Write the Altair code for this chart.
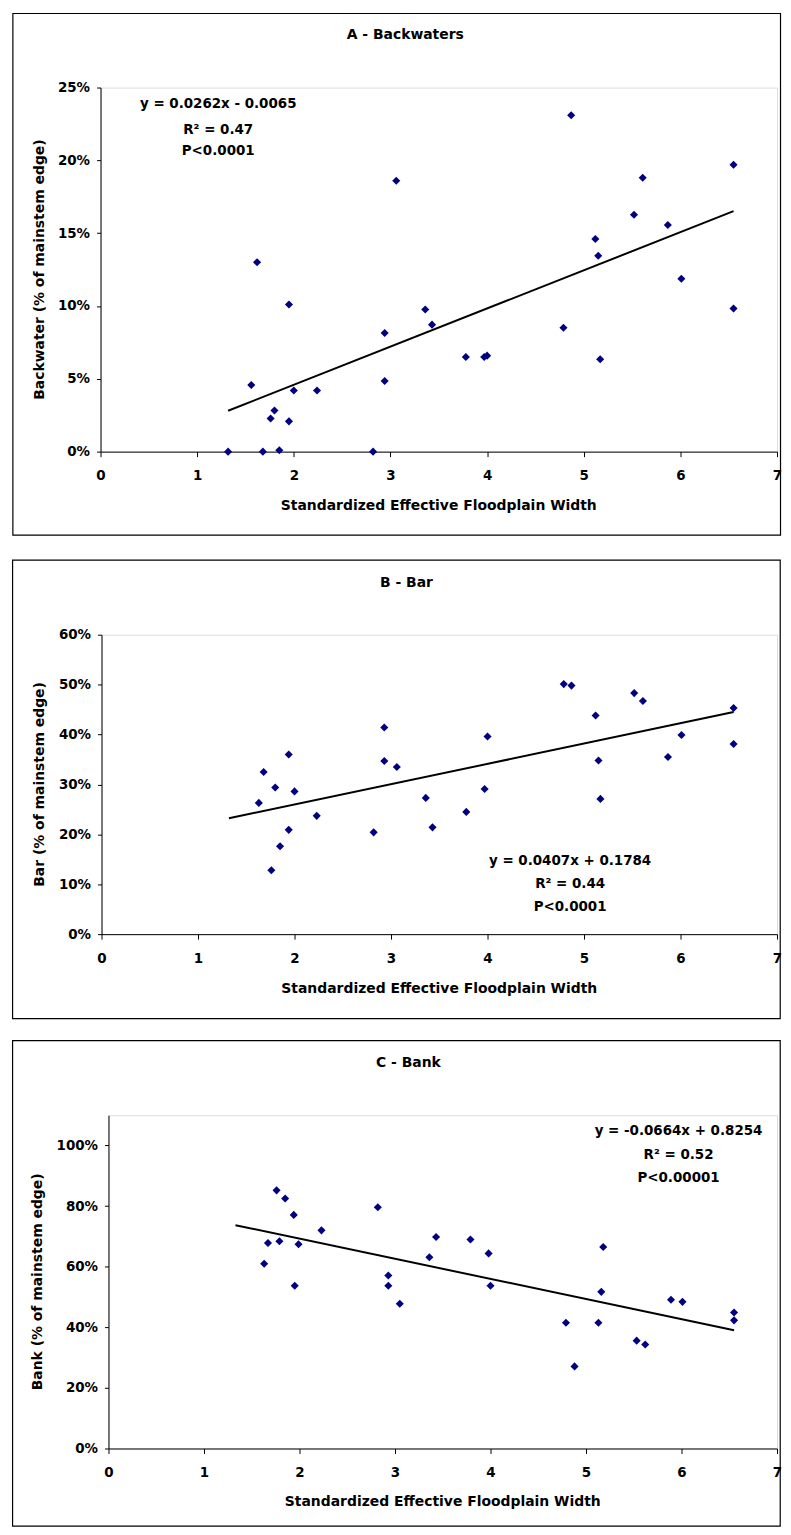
import altair as alt
import pandas as pd

# ---------------- data ----------------
# Panel A - Backwaters (values in % of mainstem edge)
A_x = [1.32, 1.56, 1.62, 1.68, 1.76, 1.80, 1.85, 1.95, 1.95, 2.00,
       2.24, 2.82, 2.94, 2.94, 3.06, 3.36, 3.43, 3.78, 3.97, 4.00,
       4.79, 4.87, 5.12, 5.15, 5.17, 5.52, 5.61, 5.87, 6.01, 6.55, 6.55]
A_y = [0.0, 4.57, 13.0, 0.0, 2.27, 2.83, 0.1, 10.1, 2.08, 4.2,
       4.2, 0.0, 8.15, 4.85, 18.6, 9.76, 8.72, 6.5, 6.5, 6.59,
       8.51, 23.1, 14.6, 13.45, 6.34, 16.26, 18.8, 15.56, 11.87, 19.7, 9.83]
A_trend_x = [1.32, 6.55]
A_trend_y = [2.81, 16.51]

# Panel B - Bar
B_x = [1.63, 1.68, 1.76, 1.80, 1.85, 1.94, 1.94, 2.00, 2.23, 2.82,
       2.93, 2.93, 3.06, 3.36, 3.43, 3.78, 3.97, 4.00, 4.79, 4.87,
       5.12, 5.15, 5.17, 5.52, 5.61, 5.87, 6.01, 6.55, 6.55]
B_y = [26.3, 32.5, 12.8, 29.4, 17.6, 36.0, 20.9, 28.6, 23.7, 20.4,
       41.4, 34.7, 33.5, 27.3, 21.4, 24.5, 29.1, 39.6, 50.1, 49.8,
       43.8, 34.8, 27.1, 48.3, 46.7, 35.5, 39.9, 45.3, 38.1]
B_trend_x = [1.32, 6.55]
B_trend_y = [23.21, 44.50]

# Panel C - Bank
C_x = [1.63, 1.67, 1.76, 1.79, 1.85, 1.94, 1.95, 1.99, 2.23, 2.82,
       2.93, 2.93, 3.05, 3.36, 3.43, 3.79, 3.98, 4.00, 4.79, 4.88,
       5.13, 5.16, 5.18, 5.53, 5.62, 5.89, 6.01, 6.55, 6.55]
C_y = [61.0, 67.8, 85.2, 68.4, 82.5, 77.1, 53.7, 67.4, 72.0, 79.6,
       57.1, 53.7, 47.8, 63.1, 69.8, 69.0, 64.4, 53.7, 41.5, 27.1,
       41.5, 51.7, 66.5, 35.6, 34.3, 49.1, 48.4, 44.9, 42.3]
C_trend_x = [1.33, 6.55]
C_trend_y = [73.71, 39.05]

X_TICKS = [0, 1, 2, 3, 4, 5, 6, 7]
A_TICKS = [0, 5, 10, 15, 20, 25]
B_TICKS = [0, 10, 20, 30, 40, 50, 60]
C_TICKS = [0, 20, 40, 60, 80, 100]

X_TITLE = "Standardized Effective Floodplain Width"

FONT = "DejaVu Sans"
NAVY = "#000080"
LBL = 13.5


def panel(xs, ys, tx, ty, ydom, yticks, W, H, box, title, title_xy,
          eq_lines, eq_x, eq_ys, ytitle, ytitle_xy, xtitle_xy):
    xscale = alt.Scale(domain=[0, 7], nice=False, zero=False)
    yscale = alt.Scale(domain=ydom, nice=False, zero=False)
    xaxis = alt.Axis(values=X_TICKS, title=None, grid=False, labelFlush=False,
                     labelFont=FONT, labelFontSize=LBL, labelFontWeight="bold",
                     labelColor="black", domainColor="black", tickColor="black",
                     tickSize=5, labelPadding=12, format="d")
    yaxis = alt.Axis(values=yticks, title=None, grid=False,
                     labelExpr="datum.value + '%'",
                     labelFont=FONT, labelFontSize=LBL, labelFontWeight="bold",
                     labelColor="black", domainColor="black", tickColor="black",
                     tickSize=4, labelPadding=7)

    pts = pd.DataFrame({"x": xs, "y": ys})
    trend = pd.DataFrame({"x": tx, "y": ty})
    dummy = pd.DataFrame({"d": [0]})

    frame = alt.Chart(dummy).mark_rect(filled=False, stroke="black", strokeWidth=1.2).encode(
        x=alt.value(box[0]), x2=alt.value(box[1]), y=alt.value(box[2]), y2=alt.value(box[3]))

    points = alt.Chart(pts).mark_point(shape="diamond", filled=True, size=66,
                                        color=NAVY, opacity=1).encode(
        x=alt.X("x:Q", scale=xscale, axis=xaxis),
        y=alt.Y("y:Q", scale=yscale, axis=yaxis))

    line = alt.Chart(trend).mark_line(color="black", strokeWidth=2).encode(
        x=alt.X("x:Q", scale=xscale, axis=xaxis),
        y=alt.Y("y:Q", scale=yscale, axis=yaxis))

    def txt(s, x, y, size=LBL, angle=0):
        kw = dict(text=s, font=FONT, fontSize=size, fontWeight="bold",
                  color="black", align="center", baseline="middle")
        if angle:
            kw["angle"] = angle
        return alt.Chart(dummy).mark_text(**kw).encode(x=alt.value(x), y=alt.value(y))

    layers = [frame, points, line,
              txt(title, title_xy[0], title_xy[1], 14),
              txt(ytitle, ytitle_xy[0], ytitle_xy[1], 14, 270),
              txt(X_TITLE, xtitle_xy[0], xtitle_xy[1], 14)]
    for s, yy in zip(eq_lines, eq_ys):
        layers.append(txt(s, eq_x, yy))
    return alt.layer(*layers).properties(width=W, height=H)


def spacer():
    d = pd.DataFrame({"d": [0]})
    return alt.Chart(d).mark_rect(opacity=0, strokeWidth=0).encode(
        x=alt.value(0), x2=alt.value(1), y=alt.value(0), y2=alt.value(1)
    ).properties(width=1, height=1, view=alt.ViewBackground(stroke="transparent"))


pa = panel(A_x, A_y, A_trend_x, A_trend_y, [0, 25], A_TICKS, 680, 366,
           (-88.1, 683.5, -74.4, 450), "A - Backwaters", (306.3, -52.3),
           ["y = 0.0262x - 0.0065", "R² = 0.47", "P<0.0001"], 118.3, [17, 43, 63.7],
           "Backwater (% of mainstem edge)", (-61, 183), (340, 420.7))

pb = panel(B_x, B_y, B_trend_x, B_trend_y, [0, 60], B_TICKS, 679, 301,
           (-89.4, 682.2, -75, 386), "B - Bar", (306.5, -52.3),
           ["y = 0.0407x + 0.1784", "R² = 0.44", "P<0.0001"], 471, [227.5, 250.5, 273.5],
           "Bar (% of mainstem edge)", (-62, 150.5), (339.5, 356))

pc = panel(C_x, C_y, C_trend_x, C_trend_y, [0, 110], C_TICKS, 672, 335,
           (-96.4, 675.2, -75, 413), "C - Bank", (301.5, -52),
           ["y = -0.0664x + 0.8254", "R² = 0.52", "P<0.00001"], 573, [16.3, 40.3, 63],
           "Bank (% of mainstem edge)", (-71, 167.5), (336, 389))

row_a = alt.hconcat(spacer(), pa, spacing=0)
row_b = alt.hconcat(spacer(), pb, spacing=0)
row_c = alt.hconcat(spacer(), pc, spacing=0)

chart = alt.vconcat(row_a, alt.vconcat(row_b, row_c, spacing=18), spacing=21).properties(
    padding=0, background="white"
).configure_view(stroke="#808080", strokeWidth=1).configure(font=FONT)

chart.save("out.html", embed_options={"renderer": "svg", "actions": False})
